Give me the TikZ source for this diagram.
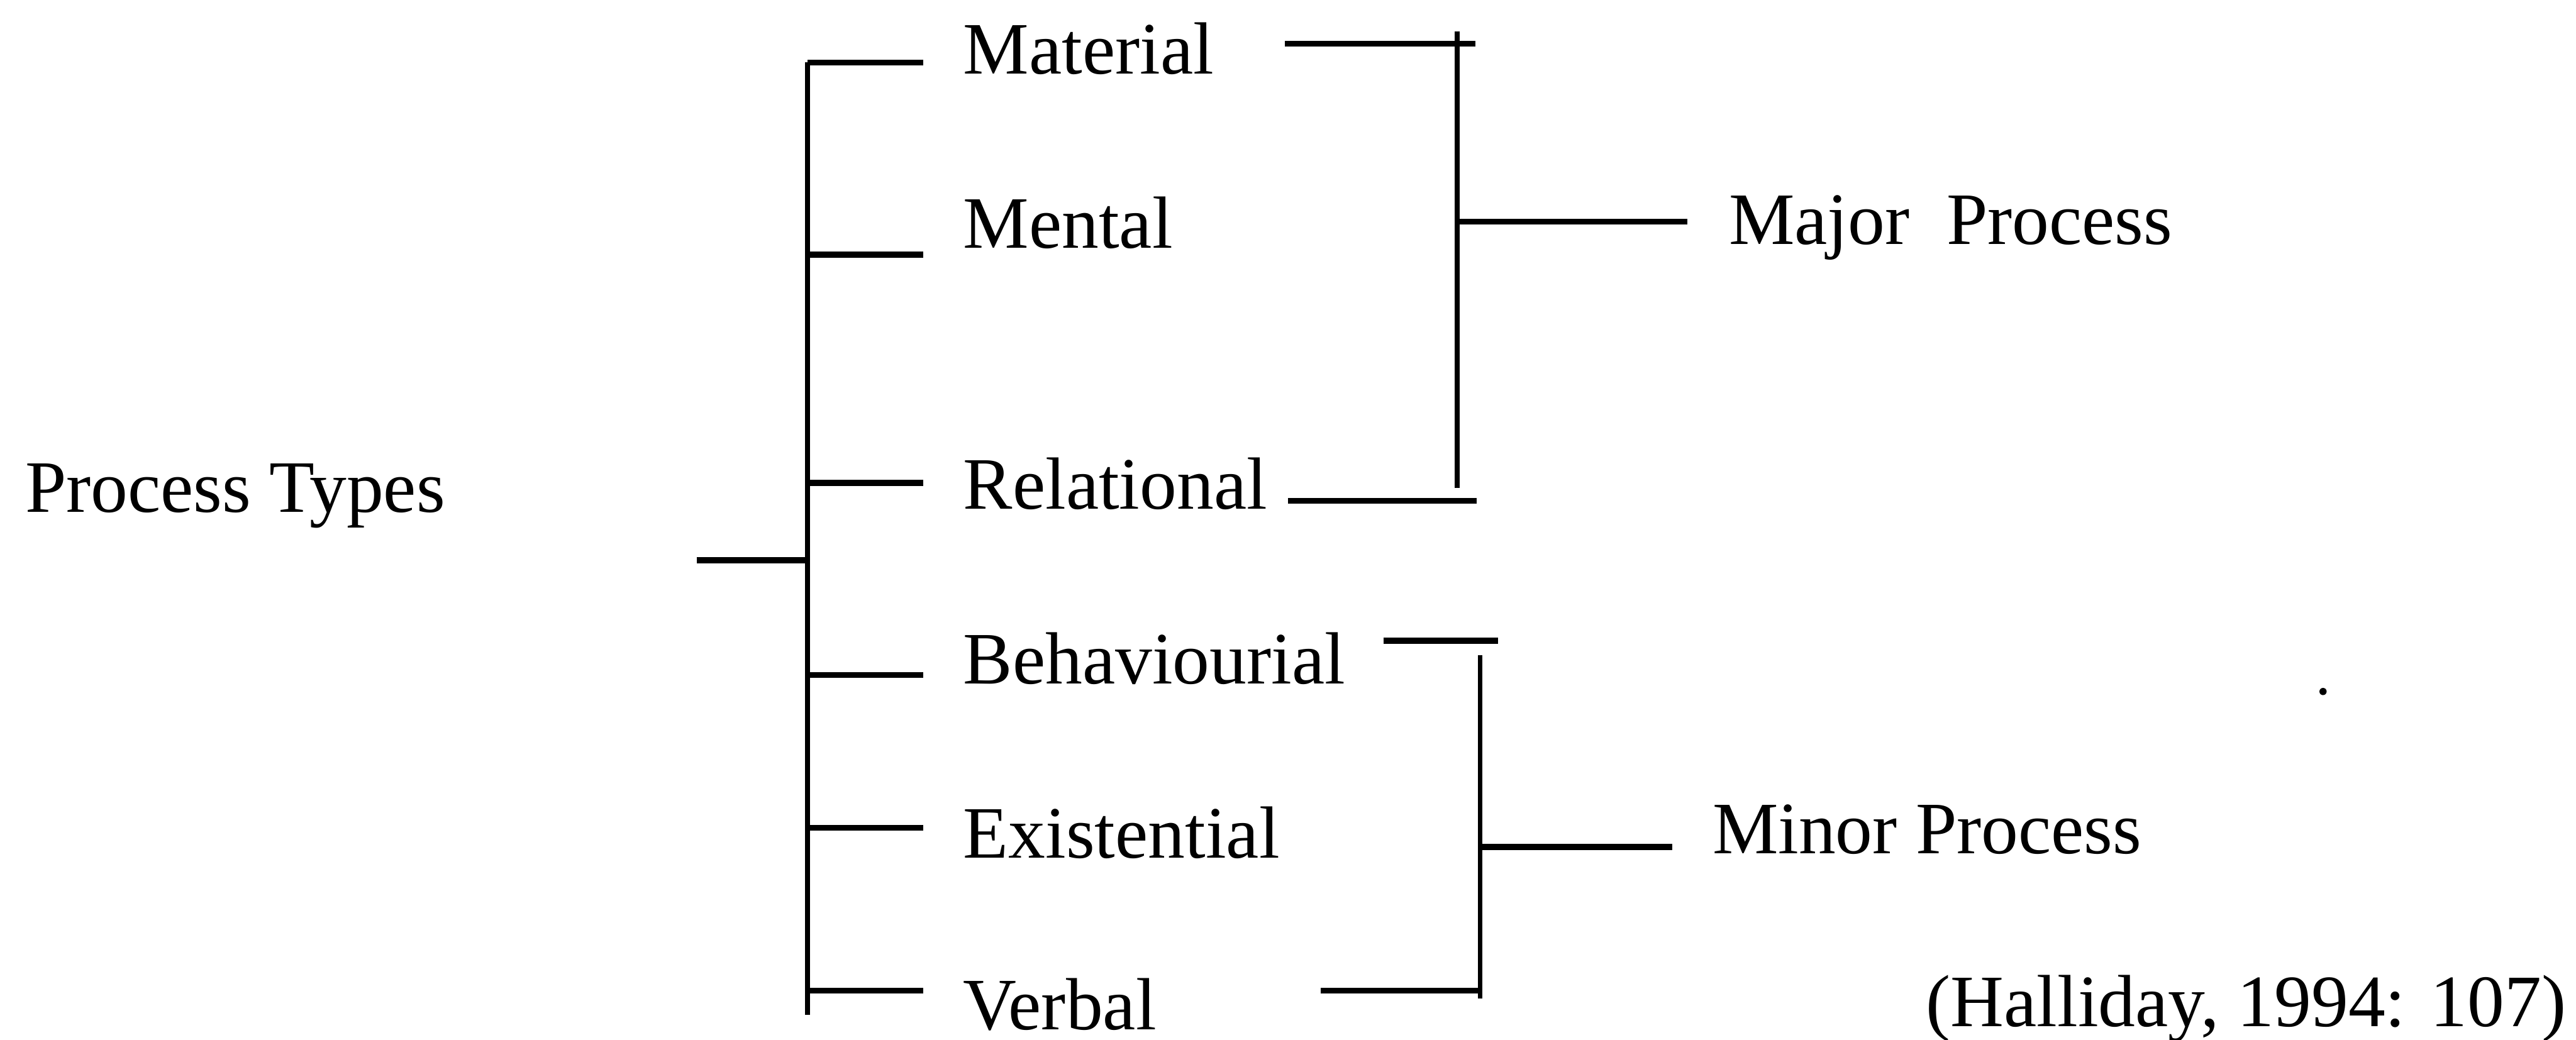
\documentclass[tikz,border=0pt]{standalone}
\usepackage{fontspec}
\setmainfont{Liberation Serif}
\begin{document}
\begin{tikzpicture}[x=0.5pt,y=-0.5pt,
  lbl/.style={anchor=base west,inner sep=0pt,font=\fontsize{22.5}{27}\selectfont},
  hline/.style={line width=1.8pt},
  vline/.style={line width=1.4pt}]
\useasboundingbox (0,0) rectangle (1568,633);
% labels
\node[lbl] (pt)  at (15,311.7) {Process Types};
\node[lbl] (mat) at (586,45) {Material};
\node[lbl] (men) at (586,151) {Mental};
\node[lbl] (rel) at (586,310) {Relational};
\node[lbl] (beh) at (586,416.4) {Behaviourial};
\node[lbl] (exi) at (586,522.4) {Existential};
\node[lbl] (ver) at (586,627) {Verbal};
\node[lbl] (maj) at (1052,148.9) {Major\ \ Process};
\node[lbl] (min) at (1042,519.7) {Minor Process};
\node[lbl] (hal) at (1172,625) {(Halliday, 1994: 107)};
% spine
\coordinate (sp0) at (491.5,38);
\coordinate (sp1) at (491.5,618);
\coordinate (st0) at (424,341);
\coordinate (st1) at (491.5,341);
\draw[vline] (sp0) -- (sp1);
\draw[hline] (st0) -- (st1);
% ticks
\foreach \n/\y in {a/38,b/155,c/294,d/411,e/504,f/603}{
  \coordinate (k\n0) at (491.5,\y);
  \coordinate (k\n1) at (562,\y);
  \draw[hline] (k\n0) -- (k\n1);
}
% major bracket
\coordinate (ma1) at (782,26.5);
\coordinate (ma2) at (898,26.5);
\coordinate (ma3) at (887,19);
\coordinate (ma4) at (887,297);
\coordinate (ma5) at (784,305);
\coordinate (ma6) at (899,305);
\coordinate (ma7) at (887,135);
\coordinate (ma8) at (1027,135);
\draw[hline] (ma1) -- (ma2);
\draw[vline] (ma3) -- (ma4);
\draw[hline] (ma5) -- (ma6);
\draw[hline] (ma7) -- (ma8);
% minor bracket
\coordinate (mi1) at (842,390);
\coordinate (mi2) at (912,390);
\coordinate (mi3) at (901,399);
\coordinate (mi4) at (901,608);
\coordinate (mi5) at (804,603);
\coordinate (mi6) at (900,603);
\coordinate (mi7) at (901,515.6);
\coordinate (mi8) at (1018,515.6);
\draw[hline] (mi1) -- (mi2);
\draw[vline] (mi3) -- (mi4);
\draw[hline] (mi5) -- (mi6);
\draw[hline] (mi7) -- (mi8);
% stray dot
\fill (1414,421) circle (2.2);
\end{tikzpicture}
\end{document}
